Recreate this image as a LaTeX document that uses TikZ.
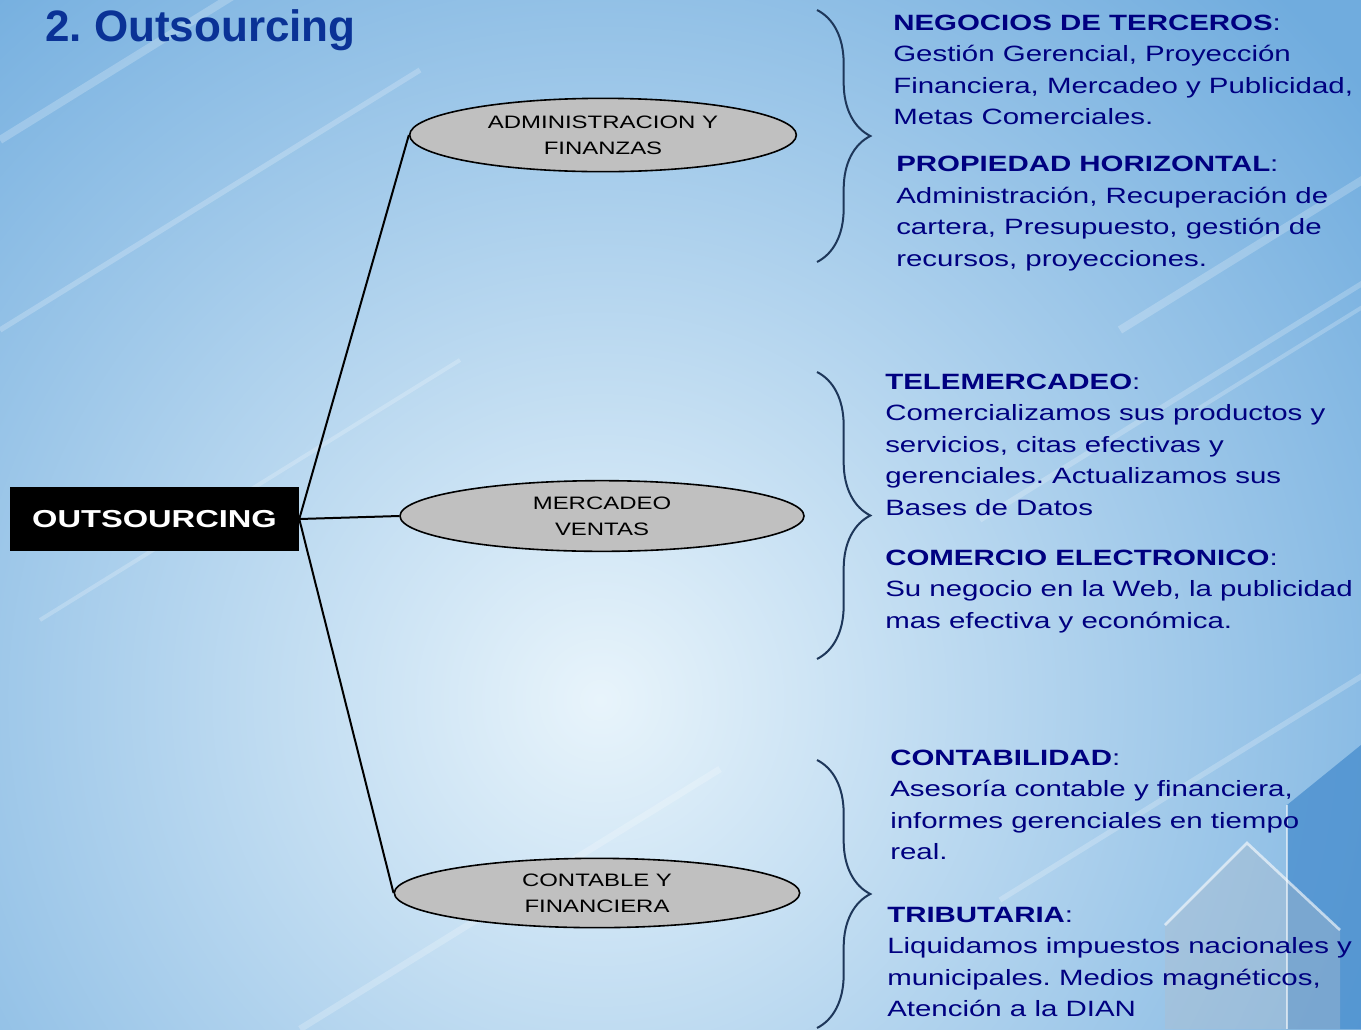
\documentclass[tikz,border=0pt]{standalone}
\usepackage{fontspec}
\setmainfont{Liberation Sans}[FakeStretch=1.33]
\newfontfamily\titlefont{Liberation Sans}
\usetikzlibrary{positioning,shapes.geometric,decorations.pathreplacing}

\definecolor{titleblue}{RGB}{10,50,150}
\definecolor{navytext}{RGB}{0,0,128}
\definecolor{bracecol}{RGB}{30,55,90}
\definecolor{ellgray}{RGB}{192,192,192}
\definecolor{bgouter}{RGB}{112,172,222}
\definecolor{bginner}{RGB}{232,244,251}
\definecolor{tileblue}{RGB}{70,140,205}
\definecolor{tilegray}{RGB}{175,190,205}

\newcommand{\bodyfont}{\fontsize{16.6}{23.6}\selectfont}
\newcommand{\head}[1]{\textbf{#1}:}
\frenchspacing

\begin{document}
\begin{tikzpicture}[x=0.75pt, y=-0.75pt,
	rootbox/.style={fill=black, text=white, minimum width=216.75pt, minimum height=48pt, inner sep=0pt, font=\fontsize{18.4}{22}\selectfont\bfseries},
	branch/.style={ellipse, draw=black, line width=1.2pt, fill=ellgray, inner sep=0pt, align=center, font=\fontsize{13.5}{19.5}\selectfont},
	infotext/.style={anchor=base west, align=left, inner sep=0pt, text=navytext, font=\bodyfont},
	rbrace/.style={draw=bracecol, line width=1.5pt, decorate, decoration={brace, amplitude=40pt}},
	link/.style={draw=black, line width=1.5pt}]
	
	% background
	\useasboundingbox (0,0) rectangle (1361,1029);
	\begin{scope}
		\clip (0,0) rectangle (1361,1029);
		\fill[bgouter] (0,0) rectangle (1361,1029);
		\shade[inner color=bginner, outer color=bgouter] (600,700) circle (980);
		\foreach \sx/\sy/\w in {0/140/6, 0/330/4, 40/620/3, 300/1029/5, 980/520/4, 1120/330/6, 1180/420/3, 1000/900/4}
			\draw[white, opacity=0.22, line width=\w pt] (\sx,\sy) -- ++(420,-260);
		\fill[tileblue, opacity=0.75] (1287,805) -- (1361,745) -- (1361,1029) -- (1287,1029) -- cycle;
		\fill[tilegray, opacity=0.4] (1247,843) -- (1340,930) -- (1340,1029) -- (1165,1029) -- (1165,925) -- cycle;
		\draw[white, opacity=0.6, line width=2pt] (1165,925) -- (1247,843) -- (1340,930);
		\draw[white, opacity=0.6, line width=2pt] (1287,805) -- (1287,1029);
	\end{scope}
	
	\node[anchor=base west, inner sep=0pt, text=titleblue, font=\titlefont\fontsize{33}{36}\selectfont\bfseries] (title) at (45,41) {2. Outsourcing};
	
	\node[rootbox] (root) at (154.5,519) {OUTSOURCING};
	
	\node[branch, minimum width=290pt, minimum height=55pt] (admin) at (603,135) {ADMINISTRACION Y\\FINANZAS};
	\node[branch, minimum width=303pt, minimum height=53pt] (mercadeo) at (602,516) {MERCADEO\\VENTAS};
	\node[branch, minimum width=304pt, minimum height=52pt] (contable) at (597,893) {CONTABLE Y\\FINANCIERA};
	
	\draw[link] (root.east) -- (admin.west);
	\draw[link] (root.east) -- (mercadeo.west);
	\draw[link] (root.east) -- (contable.west);
	
	\draw[rbrace] (817,10) -- (817,262);
	\draw[rbrace] (817,372) -- (817,659);
	\draw[rbrace] (817,760) -- (817,1028);
	
	% anchors sit on the last line's baseline
	\node[infotext] (terceros) at (893,124.5) {\head{NEGOCIOS DE TERCEROS}\\Gestión Gerencial, Proyección\\Financiera, Mercadeo y Publicidad,\\Metas Comerciales.};
	\node[infotext] (horizontal) at (896,266) {\head{PROPIEDAD HORIZONTAL}\\Administración, Recuperación de\\cartera, Presupuesto, gestión de\\recursos, proyecciones.};
	\node[infotext] (tele) at (885,515) {\head{TELEMERCADEO}\\Comercializamos sus productos y\\servicios, citas efectivas y\\gerenciales. Actualizamos sus\\Bases de Datos};
	\node[infotext] (comercio) at (885,628) {\head{COMERCIO ELECTRONICO}\\Su negocio en la Web, la publicidad\\mas efectiva y económica.};
	\node[infotext] (contabilidad) at (890,859.5) {\head{CONTABILIDAD}\\Asesoría contable y financiera,\\informes gerenciales en tiempo\\real.};
	\node[infotext] (tributaria) at (887,1016.5) {\head{TRIBUTARIA}\\Liquidamos impuestos nacionales y\\municipales. Medios magnéticos,\\Atención a la DIAN};
\end{tikzpicture}
\end{document}
